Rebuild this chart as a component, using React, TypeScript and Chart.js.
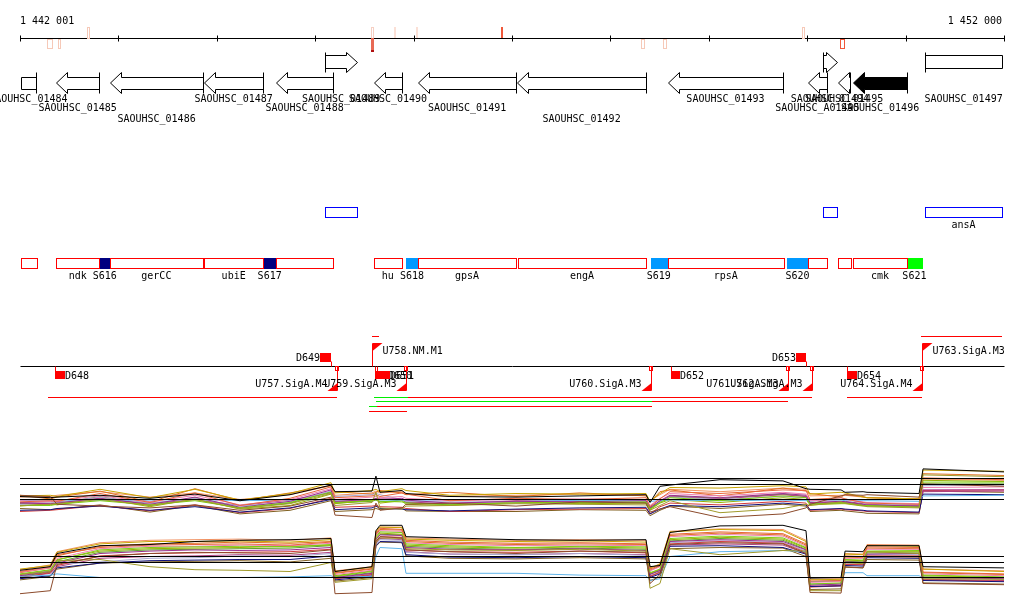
import { useEffect, useRef } from 'react';
import { Chart, registerables } from 'chart.js';

Chart.register(...registerables);

// ---------------- DATA ----------------
const REGION_START = 1442001;
const REGION_END = 1452000;
const AXIS_TICKS = [1442001, 1443000, 1444000, 1445000, 1446000, 1447000, 1448000, 1449000, 1450000, 1451000, 1452000];
const AXIS_LABELS = ['1 442 001', '1 452 000'];

// genes: strand -1 reverse, +1 forward; row = label row; arrow=false -> truncated box
const GENES = [
  { name: 'SAOUHSC_01484', start: 1442008, end: 1442164, strand: -1, row: 0, arrow: false, filled: false },
  { name: 'SAOUHSC_01485', start: 1442367, end: 1442807, strand: -1, row: 1, arrow: true, filled: false },
  { name: 'SAOUHSC_01486', start: 1442916, end: 1443861, strand: -1, row: 2, arrow: true, filled: false },
  { name: 'SAOUHSC_01487', start: 1443871, end: 1444473, strand: -1, row: 0, arrow: true, filled: false },
  { name: 'SAOUHSC_01488', start: 1444603, end: 1445182, strand: -1, row: 1, arrow: true, filled: false },
  { name: 'SAOUHSC_01489', start: 1445101, end: 1445426, strand: 1, row: 0, arrow: true, filled: false },
  { name: 'SAOUHSC_01490', start: 1445598, end: 1445883, strand: -1, row: 0, arrow: true, filled: false },
  { name: 'SAOUHSC_01491', start: 1446046, end: 1447042, strand: -1, row: 1, arrow: true, filled: false },
  { name: 'SAOUHSC_01492', start: 1447052, end: 1448362, strand: -1, row: 2, arrow: true, filled: false },
  { name: 'SAOUHSC_01493', start: 1448586, end: 1449754, strand: -1, row: 0, arrow: true, filled: false },
  { name: 'SAOUHSC_A01495', start: 1450008, end: 1450201, strand: -1, row: 1, arrow: true, filled: false },
  { name: 'SAOUHSC_01494', start: 1450160, end: 1450303, strand: 1, row: 0, arrow: true, filled: false },
  { name: 'SAOUHSC_01495', start: 1450313, end: 1450436, strand: -1, row: 0, arrow: true, filled: false },
  { name: 'SAOUHSC_01496', start: 1450466, end: 1451015, strand: -1, row: 1, arrow: true, filled: true },
  { name: 'SAOUHSC_01497', start: 1451198, end: 1451980, strand: 1, row: 0, arrow: false, filled: false },
];

// small marks around the coordinate axis: side 1 above, -1 below, 0 both
const AXIS_MARKS = [
  { start: 1442275, end: 1442326, side: -1, kind: 'pale' },
  { start: 1442387, end: 1442407, side: -1, kind: 'pale' },
  { start: 1442682, end: 1442702, side: 1, kind: 'pale' },
  { start: 1445568, end: 1445588, side: 0, kind: 'mixed' },
  { start: 1445801, end: 1445822, side: 1, kind: 'paleFill' },
  { start: 1446025, end: 1446046, side: 1, kind: 'paleFill' },
  { start: 1446889, end: 1446899, side: 1, kind: 'strongFill' },
  { start: 1448311, end: 1448342, side: -1, kind: 'pale' },
  { start: 1448535, end: 1448565, side: -1, kind: 'pale' },
  { start: 1449947, end: 1449967, side: 1, kind: 'pale' },
  { start: 1450334, end: 1450374, side: -1, kind: 'strong' },
];

const BLUE_BOXES = [
  { start: 1445101, end: 1445426, label: '' },
  { start: 1450160, end: 1450303, label: '' },
  { start: 1451198, end: 1451980, label: 'ansA' },
];

const OPERON_BOXES = [
  { start: 1442008, end: 1442171, label: '' },
  { start: 1442367, end: 1442807, label: 'ndk' },
  { start: 1442916, end: 1443857, label: 'gerCC' },
  { start: 1443871, end: 1444473, label: 'ubiE' },
  { start: 1444603, end: 1445179, label: '' },
  { start: 1445598, end: 1445880, label: 'hu' },
  { start: 1446046, end: 1447042, label: 'gpsA' },
  { start: 1447062, end: 1448362, label: 'engA' },
  { start: 1448583, end: 1449764, label: 'rpsA' },
  { start: 1450008, end: 1450201, label: '' },
  { start: 1450313, end: 1450442, label: '' },
  { start: 1450466, end: 1451015, label: 'cmk' },
];

const SRNA_BOXES = [
  { start: 1442807, end: 1442916, label: 'S616', kind: 'navy' },
  { start: 1444473, end: 1444603, label: 'S617', kind: 'navy' },
  { start: 1445923, end: 1446046, label: 'S618', kind: 'sky' },
  { start: 1448410, end: 1448573, label: 'S619', kind: 'sky' },
  { start: 1449795, end: 1450008, label: 'S620', kind: 'sky' },
  { start: 1451015, end: 1451164, label: 'S621', kind: 'lime' },
];

// D elements (side 1 above line, -1 below)
const D_ELEMENTS = [
  { name: 'D648', start: 1442357, end: 1442458, side: -1 },
  { name: 'D649', start: 1445049, end: 1445158, side: 1 },
  { name: 'D650', start: 1445609, end: 1445740, side: -1 },
  { name: 'D651', start: 1445629, end: 1445761, side: -1 },
  { name: 'D652', start: 1448616, end: 1448707, side: -1 },
  { name: 'D653', start: 1449887, end: 1449988, side: 1 },
  { name: 'D654', start: 1450405, end: 1450507, side: -1 },
];

// U elements (promoters)
const U_ELEMENTS = [
  { name: 'U757.SigA.M4', pos: 1445222, side: -1 },
  { name: 'U758.NM.M1', pos: 1445578, side: 1 },
  { name: 'U759.SigA.M3', pos: 1445923, side: -1 },
  { name: 'U760.SigA.M3', pos: 1448418, side: -1 },
  { name: 'U761.SigA.M3', pos: 1449805, side: -1 },
  { name: 'U762.SigA.M3', pos: 1450049, side: -1 },
  { name: 'U764.SigA.M4', pos: 1451167, side: -1 },
  { name: 'U763.SigA.M3', pos: 1451167, side: 1 },
];

// transcript segments (lane index, colour key)
const TRANSCRIPTS = [
  { start: 1442286, end: 1445222, lane: 1, kind: 'red' },
  { start: 1445598, end: 1445944, lane: 1, kind: 'green' },
  { start: 1445944, end: 1450049, lane: 1, kind: 'red' },
  { start: 1450405, end: 1451167, lane: 1, kind: 'red' },
  { start: 1445619, end: 1448423, lane: 2, kind: 'green' },
  { start: 1448423, end: 1449805, lane: 2, kind: 'red' },
  { start: 1445547, end: 1445629, lane: 3, kind: 'green' },
  { start: 1445629, end: 1448423, lane: 3, kind: 'red' },
  { start: 1445547, end: 1445933, lane: 4, kind: 'red' },
  { start: 1445578, end: 1445649, lane: 0, kind: 'red' },
  { start: 1451157, end: 1451980, lane: 0, kind: 'red' },
];

// expression profiles (probe positions and log-intensity values)
const EXPR_X = [1442001, 1442309, 1442377, 1442814, 1443322, 1443779, 1444236, 1444745, 1445161, 1445202, 1445578, 1445618, 1445659, 1445882, 1445923, 1446370, 1447041, 1447691, 1448362, 1448403, 1448504, 1448606, 1449114, 1449754, 1449988, 1450029, 1450344, 1450385, 1450568, 1450608, 1451137, 1451177, 1452000];
const THRESHOLDS = [11.5, 10.5, 8.0];

const P1_S1 = [8.5, 8.3, 8.4, 8.7, 8.2, 8.9, 7.8, 8.8, 10.4, 9.3, 9.4, 11.9, 9.2, 9.5, 9.0, 8.5, 8.4, 8.6, 8.8, 7.5, 10.2, 10.4, 11.3, 11.1, 9.8, 9.7, 9.6, 9.2, 9.3, 9.2, 9.0, 13.1, 12.6];
const P1_S2 = [8.7, 8.5, 7.2, 6.9, 6.6, 7.1, 6.2, 6.9, 8.4, 5.4, 5.0, 7.4, 6.2, 6.6, 7.2, 7.4, 6.9, 7.6, 7.4, 5.9, 6.4, 6.8, 5.0, 5.6, 6.6, 7.2, 8.6, 8.8, 8.7, 8.8, 8.4, 10.6, 10.2];
const P1_S3 = [7.0, 7.2, 7.3, 8.0, 7.0, 8.0, 6.5, 7.3, 9.0, 7.0, 7.5, 9.2, 6.6, 6.4, 6.9, 7.0, 7.3, 7.2, 7.1, 6.2, 7.0, 7.8, 5.8, 6.5, 7.2, 7.0, 7.6, 7.4, 7.0, 6.8, 6.6, 12.1, 11.8];
const P1_S4 = [7.6, 7.8, 7.7, 9.0, 7.5, 9.1, 7.0, 8.2, 10.1, 8.3, 8.6, 8.8, 8.5, 9.1, 8.9, 7.8, 8.2, 8.0, 8.3, 6.8, 8.1, 9.3, 9.0, 9.6, 9.5, 8.0, 8.3, 8.1, 7.5, 7.4, 7.2, 11.6, 11.3];
const P1_S5 = [7.0, 7.0, 7.2, 7.8, 7.1, 7.8, 6.6, 7.5, 9.2, 7.5, 7.8, 8.0, 7.7, 7.6, 7.4, 7.2, 7.4, 7.5, 7.6, 6.4, 7.5, 8.3, 7.8, 8.6, 8.3, 7.2, 7.5, 7.4, 7.0, 7.0, 6.7, 10.9, 10.9];
const P1_S6 = [7.4, 7.3, 7.4, 8.2, 7.2, 8.4, 6.7, 7.7, 9.6, 7.7, 8.0, 8.2, 8.0, 8.2, 7.9, 7.4, 7.7, 7.6, 7.8, 6.6, 7.8, 8.7, 8.3, 9.0, 8.7, 7.5, 7.7, 7.6, 7.2, 7.1, 6.9, 9.6, 9.6];
const P1_S7 = [7.8, 7.7, 7.8, 8.6, 7.6, 8.7, 7.1, 8.0, 9.8, 8.0, 8.4, 8.5, 8.3, 8.5, 8.2, 7.8, 8.0, 8.1, 8.0, 7.0, 8.2, 9.0, 8.6, 9.2, 8.9, 7.8, 8.0, 8.0, 7.6, 7.5, 7.3, 10.0, 10.1];
const P1_S8 = [7.8, 7.9, 7.9, 7.9, 7.9, 8.0, 7.8, 7.9, 8.0, 7.9, 8.0, 8.0, 7.9, 7.9, 7.9, 7.9, 8.0, 7.8, 7.9, 7.7, 7.8, 7.9, 7.8, 7.9, 7.8, 7.8, 7.9, 7.8, 7.8, 7.8, 7.7, 8.6, 8.7];
const P1_S9 = [6.2, 6.3, 6.5, 6.9, 6.2, 6.8, 5.9, 6.6, 8.0, 6.3, 6.6, 6.9, 6.5, 6.4, 6.3, 6.1, 6.4, 6.6, 6.7, 5.6, 6.4, 7.0, 6.8, 7.4, 7.1, 6.3, 6.5, 6.4, 6.2, 6.1, 5.9, 8.9, 8.8];
const P1_S10 = [6.0, 6.2, 6.3, 7.0, 6.1, 7.1, 5.8, 6.5, 8.2, 6.7, 6.9, 7.0, 6.8, 6.7, 6.5, 6.0, 6.3, 6.4, 6.5, 5.6, 6.8, 7.4, 7.1, 7.7, 7.4, 6.2, 6.4, 6.3, 6.1, 6.0, 5.8, 9.5, 9.6];
const P1_S11 = [8.6, 8.7, 8.5, 9.7, 8.3, 9.7, 7.9, 9.0, 10.8, 9.1, 9.5, 9.7, 9.3, 9.8, 9.5, 8.7, 9.0, 8.9, 9.0, 7.7, 9.0, 10.0, 9.9, 10.3, 10.1, 8.9, 9.2, 9.1, 8.4, 8.3, 8.1, 12.9, 12.7];
const P1_S12 = [7.2, 7.4, 7.5, 8.4, 7.4, 8.2, 6.9, 7.6, 9.4, 8.5, 8.8, 9.0, 8.8, 8.0, 7.7, 7.6, 7.6, 7.9, 7.7, 6.9, 7.6, 8.4, 8.0, 8.5, 8.3, 7.7, 8.3, 8.1, 7.4, 7.3, 7.1, 10.3, 10.4];
const P1_S13 = [8.7, 8.1, 8.4, 9.4, 7.6, 9.8, 7.8, 9.1, 10.3, 9.3, 8.9, 9.2, 9.5, 9.1, 8.8, 9.2, 8.5, 9.1, 8.6, 7.6, 9.3, 9.6, 8.6, 9.9, 9.4, 9.0, 8.4, 8.8, 8.5, 8.3, 8.1, 12.3, 12.0];
const P1_S14 = [6.9, 7.3, 7.1, 8.2, 6.8, 8.1, 6.4, 7.0, 8.9, 7.3, 7.9, 8.1, 7.4, 7.8, 7.2, 7.0, 7.6, 7.3, 7.4, 6.3, 7.4, 8.0, 7.5, 8.3, 8.0, 7.1, 7.3, 7.3, 6.9, 6.9, 6.8, 11.2, 11.0];
const P1_S15 = [7.5, 7.6, 7.6, 8.0, 7.4, 8.0, 7.0, 7.9, 9.1, 7.6, 7.9, 8.1, 8.1, 8.0, 7.6, 7.3, 7.8, 7.7, 7.9, 6.7, 7.7, 8.5, 8.1, 8.8, 8.5, 7.4, 7.6, 7.7, 7.3, 7.2, 7.0, 9.3, 9.4];
const P1_S16 = [6.5, 6.3, 6.4, 7.1, 5.9, 7.0, 5.6, 6.2, 7.8, 6.0, 6.3, 6.5, 6.3, 6.6, 6.1, 6.0, 6.0, 6.3, 6.2, 5.3, 6.2, 6.9, 6.5, 7.2, 6.9, 6.0, 6.2, 6.1, 5.8, 5.7, 5.6, 9.4, 9.2];
const P1_S17 = [8.4, 8.5, 8.7, 9.3, 8.4, 9.1, 8.0, 8.8, 10.3, 8.7, 9.1, 9.4, 9.1, 9.3, 8.9, 8.5, 8.7, 8.9, 8.7, 7.8, 8.8, 9.7, 9.3, 9.9, 9.7, 8.6, 8.7, 8.7, 8.4, 8.3, 8.1, 11.4, 11.2];
const P1_S18 = [7.3, 7.2, 7.3, 8.5, 7.0, 8.3, 6.6, 7.4, 9.3, 7.4, 7.7, 7.9, 7.6, 7.9, 7.5, 7.1, 7.5, 7.4, 7.5, 6.5, 7.6, 8.6, 8.2, 8.9, 8.5, 7.3, 7.4, 7.5, 7.1, 7.0, 6.9, 10.6, 10.6];

const P2_S1 = [9.2, 9.8, 12.0, 13.3, 13.5, 14.0, 14.2, 14.3, 14.5, 9.0, 9.8, 15.8, 16.7, 16.7, 14.8, 14.6, 14.3, 14.2, 14.3, 9.8, 10.0, 15.5, 16.6, 16.7, 15.8, 7.9, 8.0, 12.4, 12.3, 13.3, 13.3, 9.8, 9.6];
const P2_S2 = [5.3, 5.8, 10.2, 11.5, 12.0, 12.2, 12.1, 12.0, 12.6, 5.3, 5.5, 14.0, 14.8, 14.6, 12.6, 12.3, 12.0, 12.4, 12.2, 7.0, 8.5, 13.5, 13.8, 13.6, 12.0, 5.5, 5.4, 9.8, 9.6, 11.5, 11.4, 7.0, 6.8];
const P2_S3 = [8.5, 9.0, 10.8, 11.0, 9.8, 9.3, 9.2, 9.0, 10.5, 7.2, 7.8, 13.8, 14.6, 14.5, 12.8, 12.6, 12.5, 12.7, 12.4, 6.2, 7.0, 12.8, 11.8, 12.5, 12.4, 5.8, 5.8, 10.5, 10.3, 12.3, 12.0, 7.8, 7.7];
const P2_S4 = [9.0, 9.8, 11.8, 13.0, 13.4, 13.5, 13.6, 13.4, 13.9, 8.8, 9.5, 15.3, 16.2, 16.0, 14.2, 13.9, 13.7, 13.8, 13.6, 9.4, 10.0, 15.2, 15.6, 15.3, 13.6, 7.4, 7.5, 11.6, 11.5, 13.1, 13.0, 8.9, 8.6];
const P2_S5 = [8.6, 9.3, 10.9, 12.6, 13.0, 13.1, 13.2, 13.1, 13.5, 8.2, 9.0, 14.8, 15.6, 15.5, 13.6, 13.3, 13.0, 13.2, 13.1, 8.8, 9.4, 14.5, 14.9, 14.6, 13.0, 6.9, 7.1, 11.0, 10.9, 12.4, 12.5, 8.4, 8.1];
const P2_S6 = [8.3, 9.0, 10.4, 12.0, 12.4, 12.6, 12.5, 12.6, 13.0, 8.0, 8.7, 14.3, 15.1, 15.0, 13.0, 12.7, 12.6, 12.8, 12.5, 8.5, 9.2, 14.0, 14.3, 14.0, 12.6, 6.7, 6.9, 10.6, 10.5, 11.9, 12.0, 8.0, 7.8];
const P2_S7 = [8.9, 9.6, 11.2, 12.8, 13.2, 13.2, 13.4, 13.3, 13.7, 8.5, 9.2, 15.0, 15.8, 15.7, 13.8, 13.5, 13.3, 13.4, 13.3, 9.1, 9.8, 14.8, 15.2, 14.9, 13.2, 7.2, 7.3, 11.2, 11.2, 12.7, 12.7, 8.6, 8.3];
const P2_S8 = [8.2, 8.4, 8.6, 8.0, 8.0, 8.0, 8.0, 8.1, 8.3, 8.0, 8.2, 11.5, 13.0, 12.8, 8.7, 8.7, 8.7, 8.4, 8.3, 7.5, 7.8, 11.5, 12.3, 12.5, 12.3, 7.3, 7.5, 8.8, 8.8, 8.3, 8.3, 8.0, 8.0];
const P2_S9 = [7.8, 8.3, 9.6, 10.4, 10.8, 10.9, 11.0, 11.0, 11.6, 7.6, 8.2, 13.3, 14.0, 13.9, 11.8, 11.4, 11.3, 11.5, 11.3, 8.0, 8.6, 13.2, 13.3, 13.0, 11.9, 6.5, 6.6, 10.0, 9.9, 11.3, 11.2, 7.5, 7.3];
const P2_S10 = [8.0, 8.8, 10.0, 11.6, 12.0, 12.1, 12.2, 12.3, 12.7, 7.8, 8.5, 14.0, 14.8, 14.7, 12.6, 12.3, 12.2, 12.4, 12.1, 8.2, 8.9, 13.6, 14.0, 13.7, 12.2, 6.4, 6.6, 10.2, 10.2, 11.6, 11.6, 7.6, 7.4];
const P2_S11 = [9.4, 10.0, 12.2, 13.6, 14.0, 14.0, 14.1, 13.9, 14.3, 9.0, 9.7, 15.6, 16.4, 16.3, 14.4, 14.2, 14.0, 14.1, 13.9, 9.6, 10.2, 15.6, 16.0, 15.8, 14.0, 7.6, 7.7, 11.9, 11.8, 13.3, 13.2, 9.4, 9.0];
const P2_S12 = [8.4, 9.1, 10.2, 10.6, 11.2, 11.3, 11.6, 11.5, 12.0, 7.9, 8.6, 13.6, 14.3, 14.2, 12.2, 11.9, 11.8, 12.0, 11.7, 8.3, 9.0, 13.8, 14.1, 13.8, 12.4, 6.8, 7.0, 10.4, 10.4, 11.8, 11.8, 7.9, 7.7];
const P2_S13 = [8.8, 9.6, 11.6, 13.2, 13.6, 13.7, 13.9, 13.7, 14.0, 8.7, 9.4, 15.1, 16.0, 15.9, 14.0, 13.7, 13.5, 13.6, 13.5, 9.2, 9.9, 15.0, 15.4, 15.1, 13.4, 7.3, 7.4, 11.4, 11.3, 12.9, 12.8, 8.8, 8.5];
const P2_S14 = [8.5, 9.2, 11.0, 12.4, 12.8, 12.9, 13.0, 13.2, 13.4, 8.3, 9.1, 14.6, 15.4, 15.2, 13.4, 13.1, 12.9, 13.1, 12.9, 8.7, 9.3, 14.3, 14.7, 14.4, 12.9, 6.8, 7.0, 10.9, 10.8, 12.3, 12.3, 8.3, 8.0];
const P2_S15 = [8.0, 8.7, 9.8, 11.2, 11.5, 11.6, 11.8, 11.7, 12.2, 7.8, 8.4, 13.7, 14.5, 14.3, 12.3, 11.9, 11.8, 12.0, 11.8, 8.2, 8.8, 13.4, 13.6, 13.4, 12.0, 6.5, 6.7, 10.2, 10.1, 11.5, 11.5, 7.7, 7.5];
const P2_S16 = [7.6, 8.2, 9.4, 10.4, 10.6, 10.7, 10.8, 10.6, 11.2, 7.4, 8.0, 13.2, 13.9, 13.8, 11.6, 11.2, 11.1, 11.3, 11.1, 7.5, 8.1, 12.8, 13.0, 12.9, 11.5, 6.0, 6.1, 9.7, 9.6, 11.0, 10.9, 7.1, 6.9];
const P2_S17 = [9.3, 10.1, 12.3, 13.8, 14.2, 14.3, 14.4, 14.2, 14.6, 9.1, 9.8, 15.7, 16.4, 16.4, 14.6, 14.4, 14.2, 14.3, 14.2, 9.5, 10.3, 15.7, 16.1, 16.0, 14.2, 7.7, 7.8, 12.0, 11.9, 13.5, 13.4, 9.4, 9.1];
const P2_S18 = [8.2, 8.9, 10.6, 12.2, 12.6, 12.7, 12.8, 12.9, 13.3, 8.1, 8.8, 14.4, 15.2, 15.1, 13.2, 12.9, 12.7, 12.9, 12.7, 8.6, 9.1, 14.1, 14.5, 14.2, 12.7, 6.9, 7.0, 10.7, 10.6, 12.1, 12.1, 8.1, 7.9];

const PANEL1 = [P1_S1, P1_S2, P1_S3, P1_S4, P1_S5, P1_S6, P1_S7, P1_S8, P1_S9, P1_S10, P1_S11, P1_S12, P1_S13, P1_S14, P1_S15, P1_S16, P1_S17, P1_S18];
const PANEL2 = [P2_S1, P2_S2, P2_S3, P2_S4, P2_S5, P2_S6, P2_S7, P2_S8, P2_S9, P2_S10, P2_S11, P2_S12, P2_S13, P2_S14, P2_S15, P2_S16, P2_S17, P2_S18];

// ---------------- STYLE / LAYOUT ----------------
const W = 1024;
const H = 611;
const BP_PER_PX = (REGION_END - REGION_START) / 984;
const X_MIN = REGION_START - 20 * BP_PER_PX;
const X_MAX = REGION_END + 20 * BP_PER_PX;
const SERIES_COLORS = ['#000000', '#8b4a2b', '#a09a2a', '#e8643a', '#7ccc10', '#9a2e8e', '#ee7fb0', '#5fb4ea', '#10107a', '#d23a3a', '#c8a400', '#a8a8d0', '#e07020', '#98b000', '#b04080', '#806020', '#f09060', '#60a030'];
const FONT = '10px "DejaVu Sans Mono", "Liberation Mono", monospace';
const FWD_LANE = { top: 52, bodyTop: 55, bodyBot: 68, bot: 72 };
const REV_LANE = { top: 72, bodyTop: 77, bodyBot: 89, bot: 93 };
const GENE_LABEL_BASE = [102, 111, 122];
const TX_LANES = [336, 397, 401, 406, 411];
const TX_COLORS: Record<string, string> = { red: '#ff0000', green: '#00ee00' };
const SRNA_COLORS: Record<string, string> = { navy: '#000080', sky: '#0099ff', lime: '#00ff00' };

const genomePlugin = {
  id: 'genomeTracks',
  afterDatasetsDraw(chart: any) {
    const ctx: CanvasRenderingContext2D = chart.ctx;
    const xs = chart.scales.x;
    const ys = chart.scales.yL;
    const X = (v: number) => xs.getPixelForValue(v);
    const Y = (v: number) => ys.getPixelForValue(v);
    const SX = (v: number) => Math.round(X(v)) + 0.5;
    const SY = (v: number) => Math.round(Y(v)) + 0.5;
    ctx.save();
    ctx.lineWidth = 1;
    ctx.font = FONT;

    // coordinate axis
    ctx.strokeStyle = '#000';
    ctx.beginPath();
    ctx.moveTo(SX(REGION_START), SY(38));
    ctx.lineTo(SX(REGION_END), SY(38));
    for (const t of AXIS_TICKS) {
      ctx.moveTo(SX(t), SY(35));
      ctx.lineTo(SX(t), SY(41));
    }
    ctx.stroke();
    ctx.fillStyle = '#000';
    ctx.textBaseline = 'alphabetic';
    ctx.textAlign = 'left';
    ctx.fillText(AXIS_LABELS[0], X(REGION_START), Y(24));
    ctx.textAlign = 'right';
    ctx.fillText(AXIS_LABELS[1], X(REGION_END) - 2, Y(24));

    // axis marks
    for (const m of AXIS_MARKS) {
      const x0 = Math.round(X(m.start));
      const x1 = Math.max(x0 + 2, Math.round(X(m.end)));
      const top = m.side >= 0 ? 27 : 39;
      const bot = m.side > 0 ? 38 : 48;
      if (m.kind === 'paleFill' || m.kind === 'strongFill') {
        ctx.fillStyle = m.kind === 'paleFill' ? '#fbe0d6' : '#f0583a';
        ctx.fillRect(x0, Y(top), x1 - x0, Y(bot) - Y(top));
      } else if (m.kind === 'mixed') {
        ctx.strokeStyle = '#f6cfc2';
        ctx.strokeRect(x0 + 0.5, SY(27), x1 - x0, 11);
        ctx.fillStyle = '#e86a55';
        ctx.fillRect(x0, Y(38), x1 - x0 + 1, 12);
        ctx.fillStyle = '#b01010';
        ctx.fillRect(x0, Y(50), x1 - x0 + 1, 2);
      } else {
        ctx.strokeStyle = m.kind === 'pale' ? '#f6c9b8' : '#f0583a';
        ctx.strokeRect(x0 + 0.5, SY(top), x1 - x0, Y(bot) - Y(top));
      }
    }

    // genes
    ctx.strokeStyle = '#000';
    for (const g of GENES) {
      const s = SX(g.start);
      const e = SX(g.end);
      const L = g.strand > 0 ? FWD_LANE : REV_LANE;
      const top = SY(L.top), bt = SY(L.bodyTop), bb = SY(L.bodyBot), bot = SY(L.bot);
      const mid = (top + bot) / 2;
      ctx.beginPath();
      if (g.arrow) {
        const h = Math.min(11, e - s);
        if (g.strand > 0) {
          const hb = e - h;
          ctx.moveTo(s, bt); ctx.lineTo(hb, bt); ctx.lineTo(hb, top); ctx.lineTo(e, mid);
          ctx.lineTo(hb, bot); ctx.lineTo(hb, bb); ctx.lineTo(s, bb); ctx.closePath();
        } else {
          const hb = s + h;
          ctx.moveTo(e, bt); ctx.lineTo(hb, bt); ctx.lineTo(hb, top); ctx.lineTo(s, mid);
          ctx.lineTo(hb, bot); ctx.lineTo(hb, bb); ctx.lineTo(e, bb); ctx.closePath();
        }
      } else {
        ctx.rect(s, bt, e - s, bb - bt);
      }
      ctx.fillStyle = g.filled ? '#000' : '#fff';
      ctx.fill();
      ctx.stroke();
      const bx = g.strand > 0 ? s : e;
      ctx.beginPath();
      ctx.moveTo(bx, top);
      ctx.lineTo(bx, bot);
      ctx.stroke();
    }
    ctx.fillStyle = '#000';
    ctx.textAlign = 'center';
    for (const g of GENES) {
      ctx.fillText(g.name, (X(g.start) + X(g.end)) / 2, Y(GENE_LABEL_BASE[g.row]));
    }

    // blue boxes
    ctx.strokeStyle = '#0000ff';
    for (const b of BLUE_BOXES) {
      ctx.strokeRect(SX(b.start), SY(207), SX(b.end) - SX(b.start), 10);
      if (b.label) ctx.fillText(b.label, (X(b.start) + X(b.end)) / 2, Y(228));
    }

    // operon boxes + sRNA boxes
    for (const b of SRNA_BOXES) {
      ctx.fillStyle = SRNA_COLORS[b.kind];
      ctx.fillRect(Math.round(X(b.start)), Y(258), Math.round(X(b.end)) - Math.round(X(b.start)) + 1, 11);
    }
    ctx.strokeStyle = '#ff0000';
    for (const b of OPERON_BOXES) {
      ctx.strokeRect(SX(b.start), SY(258), SX(b.end) - SX(b.start), 10);
    }
    ctx.fillStyle = '#000';
    for (const b of [...OPERON_BOXES, ...SRNA_BOXES]) {
      if (b.label) ctx.fillText(b.label, (X(b.start) + X(b.end)) / 2, Y(279));
    }

    // annotation line
    ctx.strokeStyle = '#000';
    ctx.beginPath();
    ctx.moveTo(SX(REGION_START), SY(366));
    ctx.lineTo(SX(REGION_END), SY(366));
    ctx.stroke();

    // transcripts
    for (const t of TRANSCRIPTS) {
      ctx.strokeStyle = TX_COLORS[t.kind];
      ctx.beginPath();
      ctx.moveTo(Math.round(X(t.start)), SY(TX_LANES[t.lane]));
      ctx.lineTo(Math.round(X(t.end)), SY(TX_LANES[t.lane]));
      ctx.stroke();
    }

    // D elements
    ctx.strokeStyle = '#ff0000';
    for (const d of D_ELEMENTS) {
      const x0 = Math.round(X(d.start));
      const x1 = Math.round(X(d.end));
      ctx.fillStyle = '#ff0000';
      if (d.side > 0) {
        ctx.fillRect(x0, Y(353), x1 - x0, 9);
        ctx.beginPath();
        ctx.moveTo(x1 + 0.5, SY(361)); ctx.lineTo(x1 + 0.5, SY(366));
        ctx.stroke();
        ctx.fillStyle = '#000';
        ctx.textAlign = 'right';
        ctx.fillText(d.name, x0, Y(361));
      } else {
        ctx.fillRect(x0, Y(371), x1 - x0, 8);
        ctx.beginPath();
        ctx.moveTo(x0 + 0.5, SY(366)); ctx.lineTo(x0 + 0.5, SY(371));
        ctx.stroke();
        ctx.fillStyle = '#000';
        ctx.textAlign = 'left';
        ctx.fillText(d.name, x1, Y(379));
      }
    }

    // U elements
    for (const u of U_ELEMENTS) {
      const p = SX(u.pos);
      ctx.strokeStyle = '#ff0000';
      ctx.fillStyle = '#ff0000';
      if (u.side > 0) {
        ctx.beginPath();
        ctx.moveTo(p, SY(343)); ctx.lineTo(p, SY(366));
        ctx.stroke();
        ctx.beginPath();
        ctx.moveTo(p, Y(343)); ctx.lineTo(p + 10, Y(343)); ctx.lineTo(p, Y(351)); ctx.closePath();
        ctx.fill();
        ctx.fillStyle = '#000';
        ctx.textAlign = 'left';
        ctx.fillText(u.name, p + 10, Y(354));
      } else {
        ctx.beginPath();
        ctx.moveTo(p, SY(366)); ctx.lineTo(p, SY(390));
        ctx.stroke();
        ctx.strokeRect(p - 2, SY(366), 3, 4);
        ctx.beginPath();
        ctx.moveTo(p - 10, Y(391)); ctx.lineTo(p, Y(383)); ctx.lineTo(p, Y(391)); ctx.closePath();
        ctx.fill();
        ctx.fillStyle = '#000';
        ctx.textAlign = 'right';
        ctx.fillText(u.name, p - 10, Y(387));
      }
    }
    ctx.restore();
  },
};

function buildDatasets() {
  const ds: any[] = [];
  PANEL1.forEach((vals, i) => {
    ds.push({
      data: EXPR_X.map((x, k) => ({ x, y: vals[k] })),
      yAxisID: 'e1',
      borderColor: SERIES_COLORS[i % SERIES_COLORS.length],
      borderWidth: 1,
      order: i === 0 ? 0 : 2,
    });
  });
  PANEL2.forEach((vals, i) => {
    ds.push({
      data: EXPR_X.map((x, k) => ({ x, y: vals[k] })),
      yAxisID: 'e2',
      borderColor: SERIES_COLORS[i % SERIES_COLORS.length],
      borderWidth: 1,
      order: i === 0 ? 0 : 2,
    });
  });
  for (const axis of ['e1', 'e2']) {
    for (const t of THRESHOLDS) {
      ds.push({
        data: [{ x: REGION_START, y: t }, { x: REGION_END, y: t }],
        yAxisID: axis,
        borderColor: '#000000',
        borderWidth: 1,
        order: 1,
      });
    }
  }
  return ds;
}

export default function App() {
  const ref = useRef<HTMLCanvasElement | null>(null);
  useEffect(() => {
    if (!ref.current) return;
    const chart = new Chart(ref.current, {
      type: 'line',
      data: { datasets: buildDatasets() },
      options: {
        responsive: false,
        animation: false,
        events: [],
        layout: { padding: 0 },
        elements: { point: { radius: 0 }, line: { tension: 0, fill: false } },
        plugins: { legend: { display: false }, tooltip: { enabled: false }, title: { display: false } },
        scales: {
          x: { type: 'linear', min: X_MIN, max: X_MAX, display: false },
          yL: { type: 'linear', min: 0, max: H, reverse: true, display: false },
          e1: { type: 'linear', min: -10.5833, max: 91.25, display: false },
          e2: { type: 'linear', min: 2.4167, max: 104.25, display: false },
        },
      } as any,
      plugins: [genomePlugin as any],
    });
    return () => chart.destroy();
  }, []);
  return (
    <div style={{ position: 'absolute', left: 0, top: 0, width: W, height: H, background: '#fff' }}>
      <canvas ref={ref} width={W} height={H} style={{ width: W, height: H, display: 'block' }} />
    </div>
  );
}
